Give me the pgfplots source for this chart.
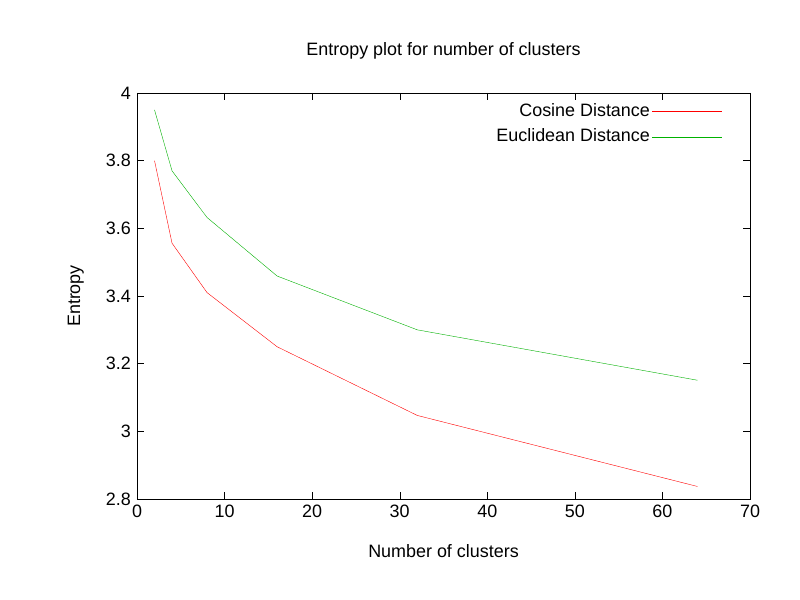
\documentclass[border=0pt]{standalone}
\usepackage{pgfplots}
\pgfplotsset{compat=1.18}
\usepackage{fontspec}
\setmainfont{Liberation Sans}
\begin{document}
\fontsize{18}{21}\selectfont
\begin{tikzpicture}[x=1bp,y=1bp,font=\fontsize{18}{21}\selectfont]
\useasboundingbox (0,0) rectangle (800,600);
\fill[white] (0,0) rectangle (800,600);
\begin{axis}[at={(137bp,101bp)},anchor=south west,
  width=613bp,height=406bp,scale only axis,
  xmin=0,xmax=70,ymin=2.8,ymax=4,
  xtick={0,10,...,70},ytick={2.8,3,...,4},
  yticklabels={2.8,3,3.2,3.4,3.6,3.8,4},
  /pgf/number format/assume math mode=true,
  tick label style={font=\fontsize{18}{21}\selectfont},
  label style={font=\fontsize{18}{21}\selectfont},
  title style={font=\fontsize{18}{21}\selectfont},
  tick style={black,thin},major tick length=7bp,
  axis line style={black,thin},
  title={Entropy plot for number of clusters},
  title style={at={(0.5,1)},yshift=22bp,anchor=south},
  xlabel={Number of clusters},ylabel={Entropy},
  xlabel style={yshift=-14bp},ylabel style={yshift=10bp},
  legend plot pos=right,
  legend cell align=right,
  legend style={draw=none,fill=none,at={(0.96,0.985)},anchor=north east,
    row sep=6bp,font=\fontsize{18}{21}\selectfont},
  legend image code/.code={\draw[#1,sharp plot] plot coordinates {(6bp,0bp) (76bp,0bp)};},
]
\addplot[color=red,thin] coordinates {(2,3.80)(4,3.556)(8,3.41)(16,3.25)(32,3.047)(64,2.837)};
\addlegendentry{Cosine Distance}
\addplot[color=green!70!black,thin] coordinates {(2,3.95)(4,3.77)(8,3.632)(16,3.459)(32,3.30)(64,3.151)};
\addlegendentry{Euclidean Distance}
\end{axis}
\end{tikzpicture}
\end{document}
